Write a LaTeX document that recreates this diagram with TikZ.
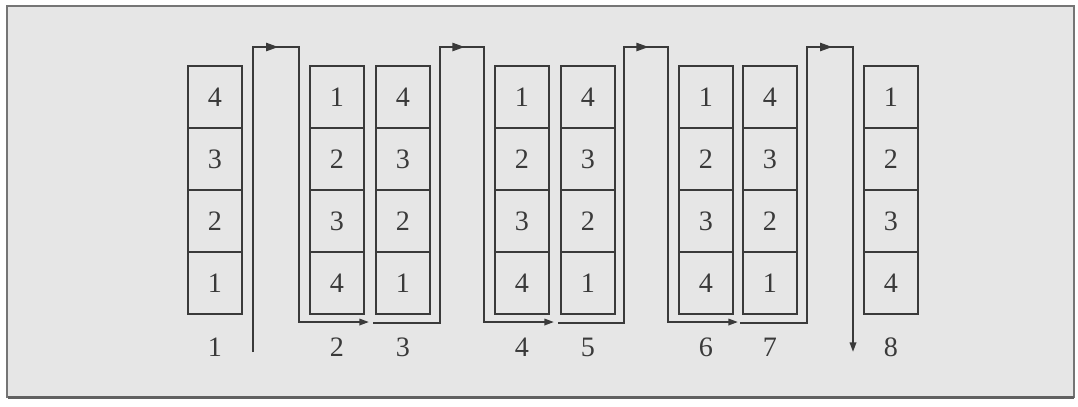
\documentclass[tikz,border=0pt]{standalone}
\usepackage{fontspec}
\setmainfont{Liberation Serif}
\usepackage{xcolor}
\usetikzlibrary{positioning,arrows.meta,shapes.geometric,calc}
\definecolor{ink}{HTML}{3A3A3A}
\definecolor{paper}{HTML}{E6E6E6}

\begin{document}
\begin{tikzpicture}[
    x=0.125mm, y=-0.125mm,
    cell/.style={rectangle, draw=ink, fill=paper, line width=0.7pt, minimum width=6.75mm, minimum height=7.75mm, inner sep=0pt, outer sep=0pt, font=\fontsize{10}{12}\selectfont, text=ink},
    lab/.style={font=\fontsize{10}{12}\selectfont, text=ink},
    link/.style={draw=ink, line width=0.7pt, -{Triangle[length=1.2mm, width=0.8mm]}},
    midtip/.style={isosceles triangle, isosceles triangle apex angle=40, fill=ink, inner sep=0pt, minimum size=1.1mm, sloped, allow upside down}
]

% frame
\useasboundingbox (0,0) rectangle (1078,406);
\draw[draw=ink!70, line width=0.8pt, fill=paper] (7,6) rectangle (1074,397);
\draw[ink!80, line width=1.2pt] (8,397.5) -- (1074,397.5);

% stacks and their numbers
\foreach \n/\x/\p/\q/\r/\s in {1/215/4/3/2/1, 2/337/1/2/3/4, 3/403/4/3/2/1, 4/522/1/2/3/4,
                              5/588/4/3/2/1, 6/706/1/2/3/4, 7/770/4/3/2/1, 8/891/1/2/3/4} {
  \node[cell] (s\n-1) at (\x,97) {\p};
  \node[cell, below=0pt of s\n-1] (s\n-2) {\q};
  \node[cell, below=0pt of s\n-2] (s\n-3) {\r};
  \node[cell, below=0pt of s\n-3] (s\n-4) {\s};
  \node[lab] (l\n) at (\x,347) {\n};
}

\coordinate (in) at ($(s1-4.south east)+(11,38)$);
\coordinate (out) at ($(s8-4.south west)+(-11,38)$);

% passes
\draw[link] (in) -- ($(s1-1.north east)+(11,-19)$)
    -- node[midtip, pos=0.35] {} ($(s2-1.north west)+(-11,-19)$) |- ($(s2-4.south east)+(5,8)$);
\draw[link] ($(s3-4.south west)+(-3,9)$) -| ($(s3-1.north east)+(10,-19)$)
    -- node[midtip, pos=0.35] {} ($(s4-1.north west)+(-11,-19)$) |- ($(s4-4.south east)+(5,8)$);
\draw[link] ($(s5-4.south west)+(-3,9)$) -| ($(s5-1.north east)+(9,-19)$)
    -- node[midtip, pos=0.35] {} ($(s6-1.north west)+(-11,-19)$) |- ($(s6-4.south east)+(5,8)$);
\draw[link] ($(s7-4.south west)+(-3,9)$) -| ($(s7-1.north east)+(10,-19)$)
    -- node[midtip, pos=0.35] {} ($(s8-1.north west)+(-11,-19)$) -- (out);

\end{tikzpicture}
\end{document}
